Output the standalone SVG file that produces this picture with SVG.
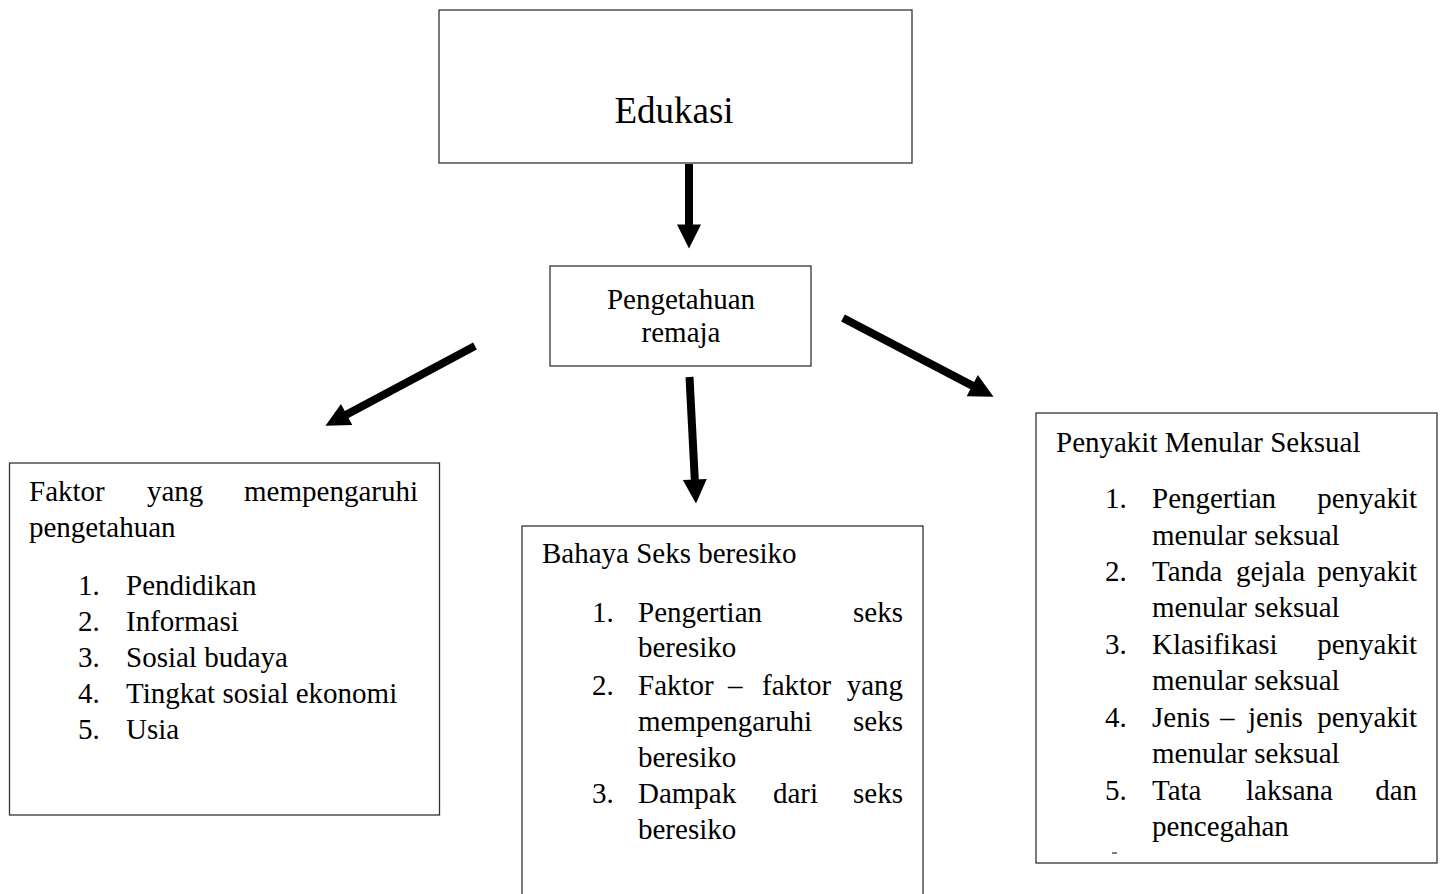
<svg xmlns="http://www.w3.org/2000/svg" width="1445" height="894" viewBox="0 0 1445 894">
<style>
.box{fill:#fff;stroke:#333;stroke-width:1.3}
text{font-family:"Liberation Serif","Times New Roman",serif;font-size:29px;fill:#000}
.big{font-size:37px}
.c{text-anchor:middle}
.e{text-anchor:end}
.arr{stroke:#000;stroke-width:8;fill:none;marker-end:url(#ah)}
</style>
<defs>
<marker id="ah" markerUnits="userSpaceOnUse" markerWidth="24" markerHeight="24" refX="0.5" refY="12" orient="auto" viewBox="0 0 24 24" overflow="visible">
<path d="M0,0 L24,12 L0,24 z" fill="#000"/>
</marker>
</defs>
<rect width="1445" height="894" fill="#fff"/>
<g id="connectors">
<line class="arr" x1="689" y1="164" x2="689" y2="225"/>
<line class="arr" x1="475" y1="346" x2="346.2" y2="414.7"/>
<line class="arr" x1="689.5" y1="377" x2="694.8" y2="480"/>
<line class="arr" x1="843" y1="318" x2="972.7" y2="385.9"/>
</g>
<g id="edukasi">
<rect class="box" x="439" y="10" width="473" height="153"/>
<text class="big c" x="674" y="123">Edukasi</text>
</g>
<g id="pengetahuan">
<rect class="box" x="550" y="266" width="261" height="100"/>
<text class="c" x="681" y="309">Pengetahuan</text>
<text class="c" x="681" y="342">remaja</text>
</g>
<g id="faktor">
<rect class="box" x="9.5" y="463" width="430" height="352"/>
<text x="29" y="501">Faktor</text>
<text x="147" y="501">yang</text>
<text class="e" x="418" y="501">mempengaruhi</text>
<text x="29" y="537">pengetahuan</text>
<text x="78" y="595">1.</text><text x="126" y="595">Pendidikan</text>
<text x="78" y="631">2.</text><text x="126" y="631">Informasi</text>
<text x="78" y="667">3.</text><text x="126" y="667">Sosial budaya</text>
<text x="78" y="703">4.</text><text x="126" y="703">Tingkat sosial ekonomi</text>
<text x="78" y="739">5.</text><text x="126" y="739">Usia</text>
</g>
<g id="bahaya">
<rect class="box" x="522" y="526" width="401" height="400"/>
<text x="542" y="563">Bahaya Seks beresiko</text>
<text x="592" y="622">1.</text><text x="638" y="622">Pengertian</text><text class="e" x="903" y="622">seks</text>
<text x="638" y="657">beresiko</text>
<text x="592" y="695">2.</text><text x="638" y="695">Faktor</text><text x="728" y="695">–</text><text x="762" y="695">faktor</text><text class="e" x="903" y="695">yang</text>
<text x="638" y="731">mempengaruhi</text><text class="e" x="903" y="731">seks</text>
<text x="638" y="767">beresiko</text>
<text x="592" y="803">3.</text><text x="638" y="803">Dampak</text><text x="773" y="803">dari</text><text class="e" x="903" y="803">seks</text>
<text x="638" y="839">beresiko</text>
</g>
<g id="penyakit">
<rect class="box" x="1036" y="413" width="401" height="450"/>
<text x="1056" y="452">Penyakit Menular Seksual</text>
<text x="1105" y="508">1.</text><text x="1152" y="508">Pengertian</text><text class="e" x="1417" y="508">penyakit</text>
<text x="1152" y="545">menular seksual</text>
<text x="1105" y="581">2.</text><text x="1152" y="581">Tanda</text><text x="1236" y="581">gejala</text><text class="e" x="1417" y="581">penyakit</text>
<text x="1152" y="617">menular seksual</text>
<text x="1105" y="654">3.</text><text x="1152" y="654">Klasifikasi</text><text class="e" x="1417" y="654">penyakit</text>
<text x="1152" y="690">menular seksual</text>
<text x="1105" y="727">4.</text><text x="1152" y="727">Jenis</text><text x="1220" y="727">–</text><text x="1248" y="727">jenis</text><text class="e" x="1417" y="727">penyakit</text>
<text x="1152" y="763">menular seksual</text>
<text x="1105" y="800">5.</text><text x="1152" y="800">Tata</text><text x="1246" y="800">laksana</text><text class="e" x="1417" y="800">dan</text>
<text x="1152" y="836">pencegahan</text>
<line x1="1112" y1="853" x2="1117" y2="853" stroke="#000" stroke-width="1"/>
</g>
</svg>
